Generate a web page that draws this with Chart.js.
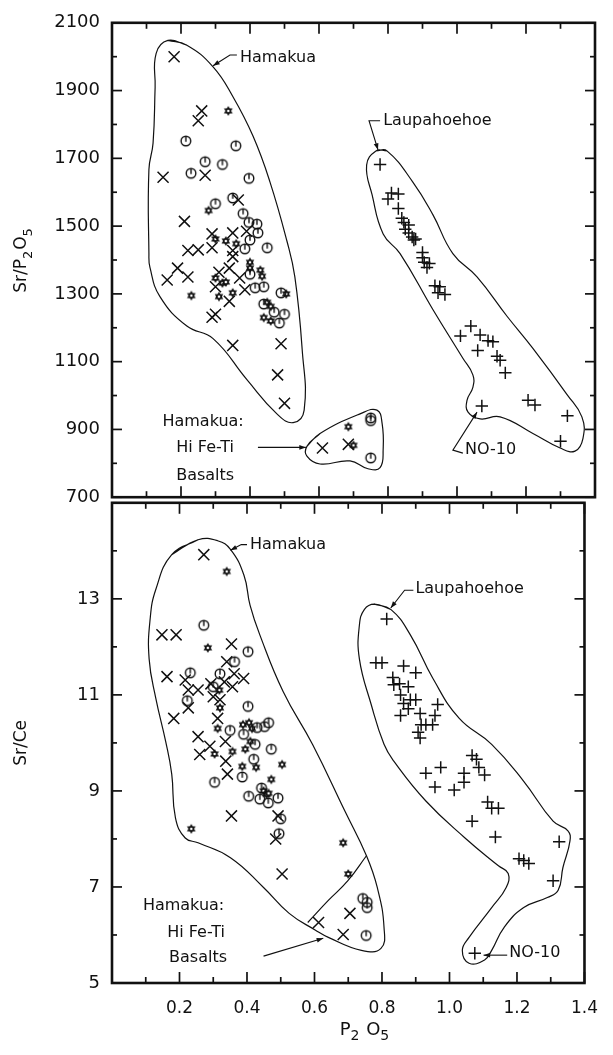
<!DOCTYPE html>
<html lang="en">
<head>
<meta charset="UTF-8">
<title>Sr/P2O5 and Sr/Ce vs P2O5</title>
<script src="https://cdn.jsdelivr.net/npm/chart.js"></script>
<style>
  body { margin: 0; background: #fff; }
  .wrap { position: relative; width: 613px; height: 1055px; }
  #topCanvas { position: absolute; left: 0; top: 0; }
  #botCanvas { position: absolute; left: 0; top: 480px; }
</style>
</head>
<body>
<div class="wrap">
  <canvas id="topCanvas" width="613" height="520"></canvas>
  <canvas id="botCanvas" width="613" height="575"></canvas>
</div>
<script>
// ---- tick labels ----
const xLabels = [0.2, 0.4, 0.6, 0.8, 1.0, 1.2, 1.4];
const yTopLabels = [700, 900, 1100, 1300, 1500, 1700, 1900, 2100];
const yBotLabels = [5, 7, 9, 11, 13];

// ---- upper panel: Sr/P2O5 vs P2O5 ----
const topCross = [[0.18,2000],[0.26,1840],[0.25,1811],[0.148,1644],[0.27,1650],[0.21,1514],[0.366,1577],
  [0.29,1477],[0.35,1480],[0.39,1485],[0.22,1428],[0.25,1430],[0.29,1436],[0.35,1428],[0.35,1410],
  [0.19,1376],[0.16,1341],[0.22,1350],[0.31,1364],[0.34,1376],[0.37,1347],[0.30,1321],[0.385,1312],
  [0.34,1278],[0.30,1240],[0.29,1231],[0.35,1148],[0.49,1153],[0.48,1061],[0.50,977],
  [0.61,845],[0.685,856]];
const topCircle = [[0.214,1751],[0.359,1737],[0.27,1690],[0.32,1682],[0.229,1656],[0.397,1641],[0.30,1566],
  [0.35,1583],[0.38,1537],[0.397,1511],[0.42,1506],[0.423,1480],[0.40,1459],[0.385,1433],[0.45,1436],
  [0.40,1358],[0.415,1318],[0.44,1321],[0.49,1303],[0.47,1246],[0.50,1240],[0.485,1214],[0.44,1270],
  [0.75,934],[0.75,926],[0.75,816]];
const topStar = [[0.337,1840],[0.28,1546],[0.30,1462],[0.33,1456],[0.36,1448],[0.40,1393],[0.40,1376],
  [0.43,1370],[0.435,1352],[0.30,1347],[0.32,1332],[0.33,1335],[0.35,1303],[0.505,1300],[0.23,1295],
  [0.31,1292],[0.45,1275],[0.46,1263],[0.46,1220],[0.44,1230],[0.70,853],[0.685,908]];
const topPlus = [[0.777,1682],[0.81,1598],[0.83,1595],[0.80,1580],[0.83,1552],[0.84,1523],[0.846,1511],
  [0.86,1503],[0.85,1491],[0.86,1480],[0.87,1468],[0.875,1459],[0.88,1462],[0.90,1422],[0.90,1407],
  [0.905,1393],[0.92,1390],[0.913,1378],[0.936,1324],[0.95,1321],[0.945,1303],[0.965,1298],
  [1.04,1205],[1.01,1176],[1.067,1179],[1.09,1162],[1.104,1159],[1.06,1133],[1.116,1116],[1.125,1104],
  [1.14,1067],[1.206,986],[1.226,972],[1.072,969],[1.32,940],[1.30,865]];

// ---- lower panel: Sr/Ce vs P2O5 ----
const botCross = [[0.272,13.92],[0.148,12.25],[0.19,12.25],[0.354,12.06],[0.34,11.69],[0.163,11.38],
  [0.217,11.31],[0.226,11.1],[0.255,11.1],[0.293,11.23],[0.333,11.27],[0.362,11.44],[0.39,11.34],
  [0.357,11.17],[0.30,10.96],[0.226,10.73],[0.32,10.9],[0.183,10.51],[0.313,10.51],[0.255,10.13],
  [0.29,9.93],[0.336,10.03],[0.26,9.76],[0.337,9.62],[0.342,9.35],[0.354,8.48],[0.492,8.48],
  [0.485,8.0],[0.504,7.27],[0.612,6.26],[0.705,6.45],[0.685,6.01]];
const botCircle = [[0.272,12.45],[0.403,11.9],[0.363,11.69],[0.232,11.46],[0.32,11.44],[0.30,11.17],
  [0.223,10.88],[0.403,10.76],[0.35,10.26],[0.43,10.32],[0.464,10.42],[0.452,10.34],[0.39,10.18],
  [0.424,9.97],[0.472,9.87],[0.386,9.29],[0.42,9.66],[0.304,9.18],[0.405,8.89],[0.438,8.83],
  [0.463,8.75],[0.492,8.85],[0.443,9.06],[0.50,8.42],[0.495,8.11],
  [0.743,6.76],[0.756,6.68],[0.756,6.57],[0.753,5.99]];
const botStar = [[0.34,13.57],[0.284,11.98],[0.318,11.1],[0.32,10.73],[0.313,10.3],[0.388,10.38],
  [0.406,10.42],[0.415,10.3],[0.41,10.03],[0.395,9.87],[0.304,9.77],[0.357,9.82],[0.386,9.51],
  [0.427,9.49],[0.504,9.55],[0.472,9.24],[0.458,8.93],[0.449,9.0],[0.464,8.95],[0.235,8.21],
  [0.685,7.92],[0.70,7.27]];
const botPlus = [[0.814,12.58],[0.782,11.67],[0.80,11.67],[0.864,11.6],[0.90,11.46],[0.832,11.36],
  [0.835,11.21],[0.852,11.23],[0.878,11.17],[0.855,11.0],[0.884,10.9],[0.90,10.9],[0.864,10.82],
  [0.878,10.71],[0.965,10.8],[0.855,10.57],[0.913,10.61],[0.957,10.57],[0.916,10.38],[0.93,10.38],
  [0.95,10.38],[0.907,10.22],[0.913,10.1],[1.067,9.74],[1.08,9.66],[1.087,9.49],[0.93,9.37],
  [0.974,9.49],[1.043,9.37],[1.104,9.33],[1.043,9.18],[0.957,9.08],[1.014,9.02],[1.113,8.77],
  [1.125,8.64],[1.145,8.64],[1.067,8.37],[1.136,8.04],[1.325,7.94],[1.206,7.59],[1.22,7.55],
  [1.235,7.49],[1.307,7.13],[1.075,5.62]];

// ---- field outlines (data coordinates) ----
const topHamakuaField = [[0.162,2048],[0.217,2034],[0.293,1970],[0.351,1881],[0.409,1765],[0.458,1630],
  [0.507,1456],[0.530,1350],[0.551,1139],[0.557,957],[0.525,920],[0.478,946],[0.391,1047],[0.293,1168],
  [0.217,1205],[0.139,1292],[0.110,1378],[0.107,1419],[0.107,1667],[0.119,1745],[0.125,1910],[0.128,2010]];
const topLaupField = [[0.765,1722],[0.797,1722],[0.872,1630],[0.930,1534],[0.988,1419],[1.058,1350],
  [1.145,1234],[1.220,1139],[1.319,1003],[1.362,937],[1.365,873],[1.342,836],[1.299,845],[1.220,888],
  [1.125,937],[1.067,931],[1.032,951],[1.029,986],[1.046,1024],[1.046,1061],[1.017,1110],[0.930,1254],
  [0.835,1419],[0.786,1477],[0.754,1592],[0.738,1680]];
const topHiFeTiField = [[0.565,850],[0.603,888],[0.719,946],[0.768,957],[0.783,917],[0.786,842],
  [0.777,787],[0.742,784],[0.690,807],[0.603,798],[0.565,821]];
const botHamakuaField = [[0.255,14.23],[0.177,13.92],[0.130,13.20],[0.113,12.58],[0.110,11.75],
  [0.130,10.92],[0.159,10.03],[0.177,9.35],[0.188,8.44],[0.217,8.02],[0.255,7.92],[0.351,7.61],
  [0.449,6.99],[0.525,6.45],[0.603,6.10],[0.641,5.95],[0.739,5.68],[0.797,5.72],[0.806,6.16],
  [0.786,6.99],[0.754,7.65],[0.690,8.58],[0.594,9.97],[0.507,11.07],[0.438,12.25],[0.409,12.87],
  [0.391,13.49],[0.351,14.03],[0.313,14.21]];
const botHiFeTiLine = [[0.580,6.26],[0.641,6.72],[0.699,7.13],[0.754,7.65]];
const botLaupField = [[0.777,12.89],[0.826,12.78],[0.884,12.25],[0.951,11.34],[1.029,10.51],[1.125,9.97],
  [1.220,9.20],[1.307,8.37],[1.351,8.17],[1.357,7.96],[1.336,7.40],[1.322,6.93],[1.290,6.78],[1.220,6.57],
  [1.162,6.16],[1.125,5.68],[1.104,5.48],[1.058,5.41],[1.038,5.68],[1.058,5.95],[1.125,6.57],[1.168,6.99],
  [1.174,7.28],[1.145,7.44],[1.046,8.02],[0.930,8.79],[0.835,9.62],[0.806,9.97],[0.768,10.80],
  [0.733,11.75],[0.733,12.45],[0.748,12.78]];

const FONT = '"DejaVu Sans", sans-serif';
const INK = '#111';

// little marker pictures used as point styles
function makeMarker(kind) {
  const s = 14, c = document.createElement('canvas');
  c.width = s; c.height = s;
  const g = c.getContext('2d');
  g.strokeStyle = INK; g.fillStyle = INK; g.lineWidth = 1.4;
  const m = s / 2;
  if (kind === 'circle') {
    g.beginPath(); g.arc(m, m, 4.8, 0, Math.PI * 2); g.stroke();
    g.beginPath(); g.moveTo(m, m - 4.8); g.lineTo(m, m + 0.8); g.stroke();
  } else {
    // six-pointed star
    const r = 5;
    for (const off of [-Math.PI / 2, Math.PI / 2]) {
      g.beginPath();
      for (let k = 0; k < 3; k++) {
        const a = off + k * 2 * Math.PI / 3;
        const px = m + r * Math.cos(a), py = m + r * Math.sin(a);
        k === 0 ? g.moveTo(px, py) : g.lineTo(px, py);
      }
      g.closePath(); g.fill();
    }
    g.fillStyle = '#fff';
    g.beginPath(); g.arc(m, m, 1.3, 0, Math.PI * 2); g.fill();
  }
  return c;
}
const circleMark = makeMarker('circle');
const starMark = makeMarker('star');

const toXY = arr => arr.map(p => ({ x: p[0], y: p[1] }));
const closed = arr => toXY([...arr, arr[0], arr[1]]);

function pointSet(arr, style, radius) {
  return { data: toXY(arr), pointStyle: style, pointRadius: radius, pointBorderColor: INK,
           pointBackgroundColor: INK, pointBorderWidth: 1.5, showLine: false };
}
function outline(data) {
  return { data: data, showLine: true, tension: 0.45, borderColor: INK, borderWidth: 1.2,
           pointRadius: 0, fill: false };
}

// frame + inward ticks
const framePlugin = {
  id: 'frame',
  afterDatasetsDraw(chart, args, opts) {
    const { ctx, chartArea: a, scales } = chart;
    const seg = (x1, y1, x2, y2) => { ctx.beginPath(); ctx.moveTo(x1, y1); ctx.lineTo(x2, y2); ctx.stroke(); };
    ctx.save();
    ctx.strokeStyle = INK;
    ctx.lineWidth = 1.7;
    const ys = scales.y;
    for (let v = ys.min; v <= ys.max + 1e-9; v += opts.yStep) {
      const py = ys.getPixelForValue(v);
      const len = opts.yMajor.some(m => Math.abs(m - v) < 1e-6) ? 10 : 5;
      seg(a.left, py, a.left + len, py);
      seg(a.right, py, a.right - len, py);
    }
    const xs = scales.x;
    for (let i = 0; i <= 14; i++) {
      const px = xs.getPixelForValue(i / 10);
      const len = i % 2 === 0 ? 11 : 6;
      if (opts.top) seg(px, a.top, px, a.top + len);
      if (opts.bottom) seg(px, a.bottom, px, a.bottom - len);
    }
    ctx.lineWidth = 2.6;
    ctx.strokeRect(a.left, a.top, a.width, a.height);
    ctx.restore();
  }
};

function subText(ctx, parts, cx, cy, size) {
  const sub = Math.round(size * 0.75);
  let w = 0;
  parts.forEach(p => { ctx.font = (p[1] ? sub : size) + 'px ' + FONT; w += ctx.measureText(p[0]).width + (p[1] ? 1 : 0); });
  let x = cx - w / 2;
  ctx.textBaseline = 'middle'; ctx.textAlign = 'left';
  parts.forEach(p => {
    ctx.font = (p[1] ? sub : size) + 'px ' + FONT;
    ctx.fillText(p[0], x, cy + (p[1] ? size * 0.38 : 0));
    x += ctx.measureText(p[0]).width + (p[1] ? 1 : 0);
  });
}

// labels, leaders and titles
const notesPlugin = {
  id: 'notes',
  afterDraw(chart, args, opts) {
    const { ctx, scales: { x, y }, chartArea: a } = chart;
    const P = p => [x.getPixelForValue(p[0]), y.getPixelForValue(p[1])];
    ctx.save();
    ctx.fillStyle = INK; ctx.strokeStyle = INK;
    ctx.font = '16px ' + FONT; ctx.textBaseline = 'middle';
    (opts.texts || []).forEach(t => {
      const [px, py] = P(t.at);
      ctx.textAlign = t.align || 'left';
      ctx.fillText(t.text, px, py);
    });
    ctx.lineWidth = 1.1;
    (opts.arrows || []).forEach(ar => {
      const pts = ar.map(P);
      ctx.beginPath();
      pts.forEach((p, i) => i ? ctx.lineTo(p[0], p[1]) : ctx.moveTo(p[0], p[1]));
      ctx.stroke();
      const [ex, ey] = pts[pts.length - 1], [sx, sy] = pts[pts.length - 2];
      const ang = Math.atan2(ey - sy, ex - sx), L = 7;
      ctx.beginPath();
      ctx.moveTo(ex, ey);
      ctx.lineTo(ex - L * Math.cos(ang - 0.35), ey - L * Math.sin(ang - 0.35));
      ctx.lineTo(ex - L * Math.cos(ang + 0.35), ey - L * Math.sin(ang + 0.35));
      ctx.closePath(); ctx.fill();
    });
    // y title
    ctx.save();
    ctx.translate(22, (a.top + a.bottom) / 2);
    ctx.rotate(-Math.PI / 2);
    subText(ctx, opts.yTitle, 0, 0, 17);
    ctx.restore();
    if (opts.xTitle) subText(ctx, opts.xTitle, 365, a.bottom + 47, 18);
    ctx.restore();
  }
};

function baseOptions(yMin, yMax, yStep, yLabels, showX) {
  return {
    responsive: false,
    animation: false,
    events: [],
    layout: { padding: { top: showX ? 20 : 17, right: 18, bottom: showX ? 0 : 20, left: 0 } },
    scales: {
      x: {
        type: 'linear', min: 0, max: 1.4, display: showX,
        grid: { display: false, drawTicks: false },
        border: { display: false },
        afterFit: s => { s.height = showX ? 72 : 0; },
        ticks: {
          stepSize: 0.1, autoSkip: false, maxRotation: 0, padding: 15, color: INK,
          font: { family: FONT, size: 17 },
          callback: v => xLabels.some(m => Math.abs(m - v) < 1e-6) ? v.toFixed(1) : ''
        }
      },
      y: {
        type: 'linear', min: yMin, max: yMax,
        grid: { display: false, drawTicks: false },
        border: { display: false },
        afterFit: s => { s.width = 112; },
        ticks: {
          stepSize: yStep, autoSkip: false, padding: 12, color: INK,
          font: { family: FONT, size: 18 },
          callback: v => yLabels.includes(v) ? String(v) : ''
        }
      }
    },
    plugins: { legend: { display: false }, tooltip: { enabled: false } }
  };
}

const topOpts = baseOptions(700, 2100, 100, yTopLabels, false);
topOpts.plugins.frame = { yStep: 100, yMajor: yTopLabels, top: true, bottom: true };
topOpts.plugins.notes = {
  yTitle: [['Sr/P', false], ['2', true], ['O', false], ['5', true]],
  texts: [
    { text: 'Hamakua', at: [0.371, 1996] },
    { text: 'Laupahoehoe', at: [0.786, 1811] },
    { text: 'NO-10', at: [1.023, 839] },
    { text: 'Hamakua:', at: [0.264, 922], align: 'center' },
    { text: 'Hi Fe-Ti', at: [0.27, 845], align: 'center' },
    { text: 'Basalts', at: [0.27, 764], align: 'center' }
  ],
  arrows: [
    [[0.362, 2005], [0.342, 2005], [0.293, 1973]],
    [[0.777, 1811], [0.745, 1811], [0.771, 1725]],
    [[1.017, 830], [0.988, 839], [1.058, 951]],
    [[0.423, 847], [0.562, 847]]
  ]
};

new Chart(document.getElementById('topCanvas'), {
  type: 'scatter',
  data: { datasets: [
    outline(closed(topHamakuaField)), outline(closed(topLaupField)), outline(closed(topHiFeTiField)),
    pointSet(topCross, 'crossRot', 7.8), pointSet(topCircle, circleMark, 5),
    pointSet(topStar, starMark, 5), pointSet(topPlus, 'cross', 6.2)
  ] },
  options: topOpts,
  plugins: [framePlugin, notesPlugin]
});

const botOpts = baseOptions(5, 15, 1, yBotLabels, true);
botOpts.plugins.frame = { yStep: 1, yMajor: yBotLabels, top: true, bottom: true };
botOpts.plugins.notes = {
  yTitle: [['Sr/Ce', false]],
  xTitle: [['P', false], ['2', true], [' O', false], ['5', true]],
  texts: [
    { text: 'Hamakua', at: [0.409, 14.13] },
    { text: 'Laupahoehoe', at: [0.899, 13.2] },
    { text: 'NO-10', at: [1.177, 5.62] },
    { text: 'Hamakua:', at: [0.212, 6.61], align: 'center' },
    { text: 'Hi Fe-Ti', at: [0.249, 6.04], align: 'center' },
    { text: 'Basalts', at: [0.255, 5.52], align: 'center' }
  ],
  arrows: [
    [[0.4, 14.13], [0.383, 14.13], [0.351, 14.01]],
    [[0.893, 13.18], [0.867, 13.18], [0.826, 12.81]],
    [[1.171, 5.58], [1.101, 5.58]],
    [[0.449, 5.56], [0.626, 5.93]]
  ]
};

new Chart(document.getElementById('botCanvas'), {
  type: 'scatter',
  data: { datasets: [
    outline(closed(botHamakuaField)), outline(toXY(botHiFeTiLine)), outline(closed(botLaupField)),
    pointSet(botCross, 'crossRot', 7.8), pointSet(botCircle, circleMark, 5),
    pointSet(botStar, starMark, 5), pointSet(botPlus, 'cross', 6.2)
  ] },
  options: botOpts,
  plugins: [framePlugin, notesPlugin]
});
</script>
</body>
</html>
